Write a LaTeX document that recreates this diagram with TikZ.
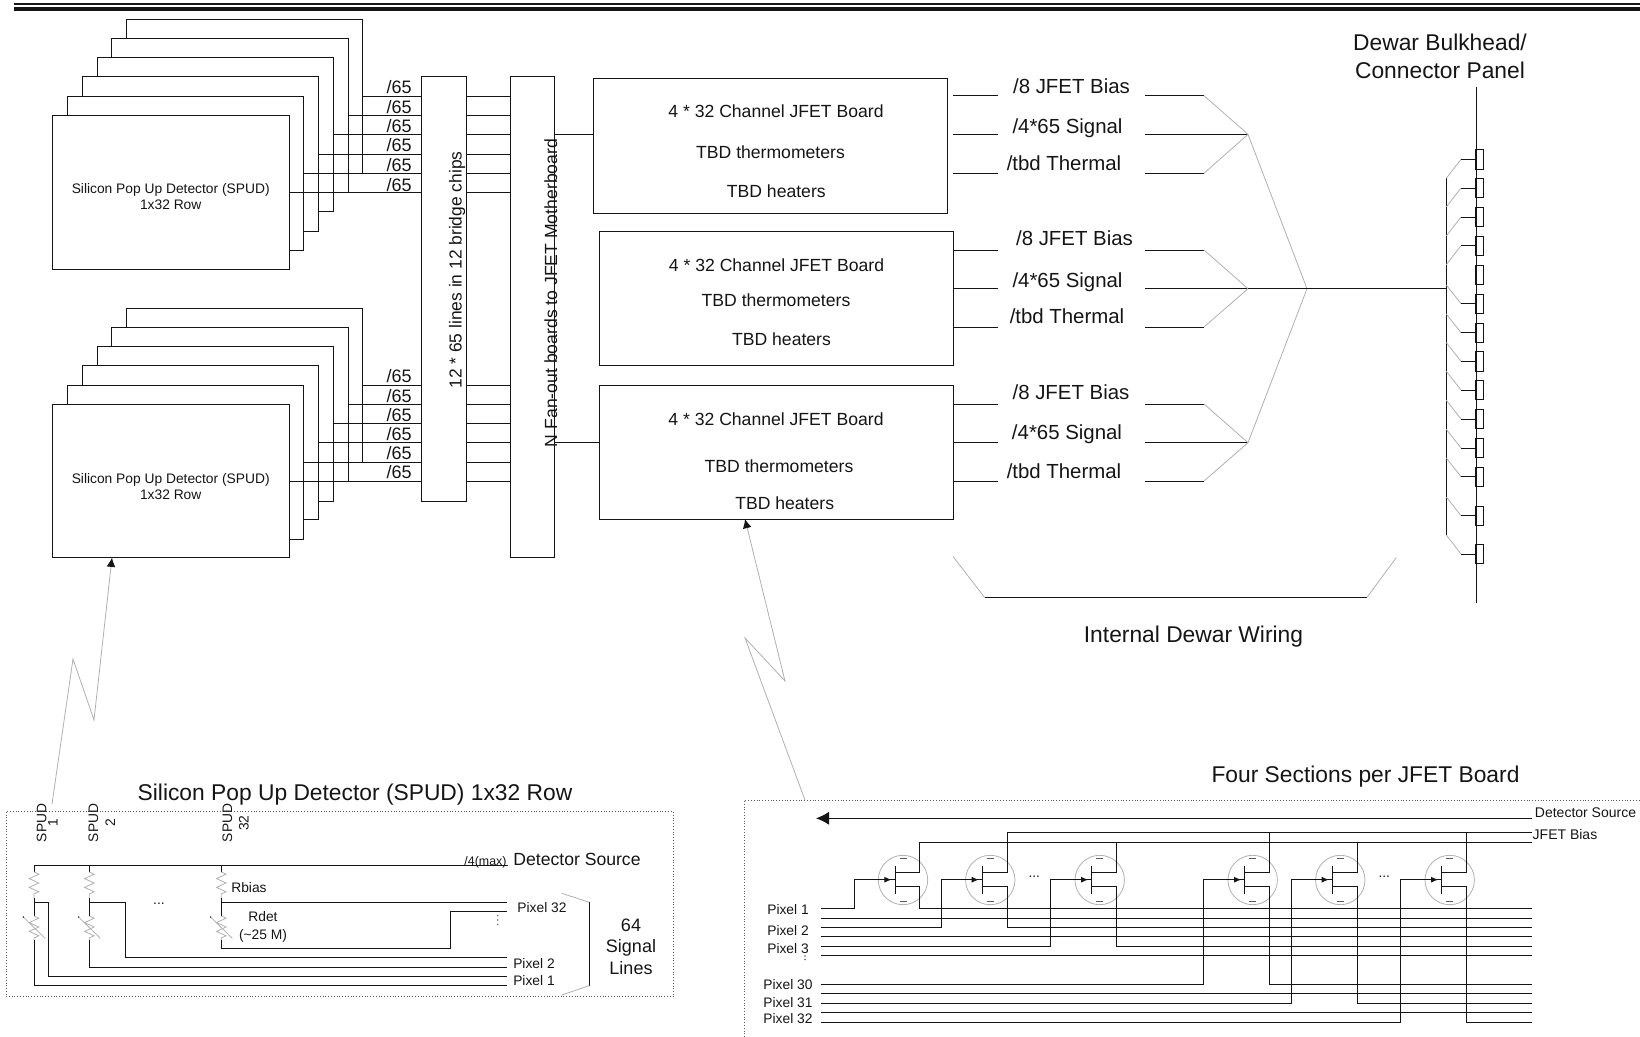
\documentclass[tikz,border=0pt]{standalone}
\usepackage{fontspec}
\setmainfont{Liberation Sans}
\usepackage{xcolor}
\usetikzlibrary{arrows.meta,decorations.pathmorphing}
\definecolor{ink}{HTML}{151515}
\definecolor{thingray}{HTML}{B0B0B0}
\newcommand{\fsz}[1]{\fontsize{#1}{#1}\selectfont}
\tikzset{
  stackbox/.style={draw=ink,fill=white,line width=0.45pt,inner sep=0pt,outer sep=0pt},
  pinbox/.style={draw=ink,line width=0.45pt,inner sep=0pt,outer sep=0pt,
                 minimum width=3.6pt,minimum height=9.7pt},
  wire/.style={draw=ink,line width=0.45pt},
  thinwire/.style={draw=thingray,line width=0.4pt},
  dotbox/.style={draw=ink!70,line width=0.4pt,densely dotted},
  txt/.style={inner sep=0pt,text=ink,text height=0.72em,text depth=0pt},
  tiny/.style={txt,font=\fsz{6.9}},
  labelsm/.style={txt,font=\fsz{9}},
  boardtxt/.style={txt,font=\fsz{8.8}},
  sigtxt/.style={txt,font=\fsz{10.2}},
  headtxt/.style={txt,font=\fsz{11.4}},
  jfetring/.style={circle,draw=thingray,line width=0.4pt,inner sep=0pt,minimum size=24.7pt},
  gatearr/.style={-{Latex[length=3.6pt,width=3pt]},draw=ink,line width=0.45pt},
  ziparr/.style={thinwire,-{Latex[ink,length=4.6pt,width=4.4pt]}},
  zag/.style={thinwire,decorate,decoration={zigzag,amplitude=2.4pt,segment length=4.4pt}}
}
\begin{document}
\begin{tikzpicture}[x=0.5pt,y=-0.5pt]
  \useasboundingbox (0,0) rectangle (1640,1037);

  % header rule
  \draw[ink,line width=0.8pt] (14,4.3) -- (1640,4.3);
  \draw[ink,line width=1.8pt] (14,9) -- (1640,9);

  % detector stacks, back box first
  \foreach \n/\xa/\ya/\xb/\yb in {
    a5/126.3/19.3/362.8/173.3, a4/111.7/38.3/348.3/192.3, a3/97.2/57.3/333/211.7,
    a2/82.3/76.7/318.4/231, a1/67.7/96/303.5/250.3, a0/52.4/115.7/289.7/269,
    b5/126.3/308.3/362.8/462, b4/111.7/327/348.3/481, b3/97.2/346.7/333/501,
    b2/82.3/365.7/318.4/519.7, b1/67.7/385/303.5/539.3, b0/52.4/404.3/289.7/557.7} {
    \node[stackbox,minimum width={(\xb-\xa)*0.5pt},minimum height={(\yb-\ya)*0.5pt}]
      (spud\n) at ({(\xa+\xb)/2},{(\ya+\yb)/2}) {};
  }
  \node[tiny] (spudnamea) at (170.7,186.3) {Silicon Pop Up Detector (SPUD)};
  \node[tiny] (spudrowa) at (170.7,202.3) {1x32 Row};
  \node[tiny] (spudnameb) at (170.7,476.3) {Silicon Pop Up Detector (SPUD)};
  \node[tiny] (spudrowb) at (170.7,492.3) {1x32 Row};

  % bridge chips and motherboard
  \node[stackbox,minimum width=22.2pt,minimum height=212.2pt] (bridge) at (443.9,288.8) {};
  \node[stackbox,minimum width=22.2pt,minimum height=240.5pt] (mother) at (532.3,317.2) {};
  \node[txt,font=\fsz{8.7},rotate=90] (bridgetxt) at (454.5,270) {12 * 65 lines in 12 bridge chips};
  \node[txt,font=\fsz{8.8},rotate=90] (mothertxt) at (550,293) {N Fan-out boards to JFET Motherboard};

  % /65 lines into the bridge, then on to the motherboard
  \foreach \n/\y/\t in {a5/96/86.5,a4/115.7/106.7,a3/134.3/125.7,a2/154/144.7,a1/173.3/164.7,a0/192.3/184,
                        b5/385/375.5,b4/404.3/395.5,b3/423.7/414.5,b2/442.7/433.5,b1/462/452.5,b0/481.3/471.5} {
    \draw[wire] (spud\n.east |- 0,\y) -- (bridge.west |- 0,\y);
    \draw[wire] (bridge.east |- 0,\y) -- (mother.west |- 0,\y);
    \node[labelsm,anchor=east] (lab\n) at (412,\t) {/65};
  }

  % JFET boards
  \node[stackbox,minimum width=177.2pt,minimum height=67.5pt] (boarda) at (770.5,145.8) {};
  \node[stackbox,minimum width=177pt,minimum height=67pt] (boardb) at (776,298) {};
  \node[stackbox,minimum width=177pt,minimum height=67pt] (boardc) at (776,452) {};
  \draw[wire] (mother.east |- 0,134.3) -- (boarda.west |- 0,134.3);
  \draw[wire] (mother.east |- 0,442.7) -- (boardc.west |- 0,442.7);
  \foreach \n/\t/\x/\y in {
    a1/4 * 32 Channel JFET Board/776/110, a2/TBD thermometers/770.5/151, a3/TBD heaters/776.3/190,
    b1/4 * 32 Channel JFET Board/776.5/264, b2/TBD thermometers/776/299.5, b3/TBD heaters/781.5/338,
    c1/4 * 32 Channel JFET Board/776/418, c2/TBD thermometers/779/465, c3/TBD heaters/784.7/502} {
    \node[boardtxt] (btxt\n) at (\x,\y) {\t};
  }

  % board output wiring
  \coordinate (fan) at (1307,288.7);
  \foreach \b/\ya/\yb/\yc in {1/95.7/134.3/173.3,2/250/288.7/327,3/404/442.7/481} {
    \coordinate (junc\b) at (1248,\yb);
    \draw[wire] (953,\ya) -- (997.7,\ya);
    \draw[wire] (953,\yb) -- (997.7,\yb);
    \draw[wire] (953,\yc) -- (997.7,\yc);
    \draw[wire] (1145,\ya) -- (1204,\ya);
    \draw[wire] (1145,\yc) -- (1204,\yc);
    \draw[wire] (1145,\yb) -- (junc\b);
    \draw[thinwire] (1204,\ya) -- (junc\b);
    \draw[thinwire] (1204,\yc) -- (junc\b);
  }
  \draw[thinwire] (junc1) -- (fan);
  \draw[thinwire] (junc3) -- (fan);
  \draw[wire] (junc2) -- (fan);
  \foreach \n/\t/\x/\y in {
    a1/8 JFET Bias/1071.5/86, a2/4*65 Signal/1067.5/126, a3/tbd Thermal/1064/163,
    b1/8 JFET Bias/1074.5/238, b2/4*65 Signal/1067.5/280, b3/tbd Thermal/1067/316.7,
    c1/8 JFET Bias/1071/392, c2/4*65 Signal/1067/432, c3/tbd Thermal/1064/471} {
    \node[sigtxt] (sig\n) at (\x,\y) {/\t};
  }

  % connector panel
  \node[headtxt] (dewara) at (1440,43) {Dewar Bulkhead/};
  \node[headtxt] (dewarb) at (1440,71) {Connector Panel};
  \coordinate (paneltop) at (1476.7,87);
  \coordinate (panelend) at (1476.7,602.7);
  \draw[ink,line width=0.6pt] (paneltop) -- (panelend);
  \coordinate (busa) at (1446.3,178.3);
  \coordinate (busb) at (1446.3,535);
  \draw[wire] (busa) -- (busb);
  \draw[wire] (fan) -- (busa |- fan);
  \node[pinbox] (pin5) at (1479.4,274.7) {};
  \foreach \i/\y/\o in {1/159.3/19,2/188/19,3/217/19,4/245.7/19,
                        6/303.7/-18.7,7/332.7/-18.7,8/361.3/-18.7,9/390/-18.7,10/419/-18.7,
                        11/448/-18.7,12/476.7/-18.7,13/515.7/-18.7,14/554/-19} {
    \node[pinbox] (pin\i) at (1479.4,\y) {};
    \draw[thinwire] (1446.3,{\y+\o}) -- (1461,\y);
    \draw[wire] (1461,\y) -- (pin\i.west);
  }

  % internal wiring bracket
  \draw[thinwire] (953,556.5) -- (984.5,597.3);
  \draw[wire] (984.5,597.3) -- (1367,597.3);
  \draw[thinwire] (1367,597.3) -- (1396.4,557.5);
  \node[txt,font=\fsz{11.4}] (wiring) at (1193.5,635) {Internal Dewar Wiring};

  % zoom-in pointers
  \coordinate (zipa) at (52,804);
  \coordinate (zipb) at (805,800);
  \draw[ziparr] (zipa) -- (73,659) -- (94,720) -- (spudb0.south -| 112,0);
  \draw[ziparr] (zipb) -- (745,638) -- (785,681) -- (boardc.south -| 745,0);

  % lower left: SPUD row
  \node[headtxt] (rowtitle) at (355,793) {Silicon Pop Up Detector (SPUD) 1x32 Row};
  \draw[dotbox] (6.3,811.7) rectangle (673.3,996.7);
  \foreach \n/\x/\t/\xt in {1/39.2/1/50.5,2/91/2/108,3/225/32/241.5} {
    \node[tiny,rotate=90] (spudv\n) at (\x,823) {SPUD};
    \node[tiny,rotate=90] (spudn\n) at (\xt,823) {\t};
  }
  \coordinate (srcend) at (508,865);
  \draw[wire] (34,865) -- (srcend);
  \foreach \x in {34,89.3,221.3} {
    \draw[wire] (\x,865) -- (\x,872);
    \draw[zag] (\x,872) -- (\x,898);
    \draw[wire] (\x,898) -- (\x,916);
    \draw[zag] (\x,916) -- (\x,940);
    \draw[thinwire] ({\x-10.7},917) -- ({\x+11},938.3);
    \fill[ink] ({\x-10.7},917) circle (0.4pt);
  }
  \draw[wire] (34,940) -- (34,985.7) -- (506.7,985.7);
  \draw[wire] (34,902.3) -- (48.3,902.3) -- (48.3,976) -- (506.7,976);
  \draw[wire] (89.3,940) -- (89.3,967) -- (506.7,967);
  \draw[wire] (89.3,902.3) -- (125.7,902.3) -- (125.7,957.3) -- (506.7,957.3);
  \draw[wire] (221.3,940) -- (221.3,948.3) -- (450.3,948.3) -- (450.3,911.3) -- (506.7,911.3);
  \draw[wire] (221.3,902.3) -- (506.7,902.3);
  \node[txt,font=\fsz{6.2}] (srcmax) at (485.5,858) {/4(max)};
  \node[txt,font=\fsz{8.8}] (srcname) at (577,858) {Detector Source};
  \node[tiny] (rbias) at (249,885) {Rbias};
  \node[tiny] (rdet) at (263,914) {Rdet};
  \node[tiny] (rdetval) at (263,932) {(\textasciitilde25 M)};
  \node[tiny] (dotsrow) at (159,897) {...};
  \node[tiny] (pixa) at (542,905.3) {Pixel 32};
  \node[tiny] (pixb) at (534,961) {Pixel 2};
  \node[tiny] (pixc) at (534,978.3) {Pixel 1};
  \foreach \y in {915.5,920,924.5} {
    \fill[ink!60] (497.7,\y) circle (0.4pt);
  }
  \draw[thinwire] (561.7,893.3) -- (589.3,902.3);
  \draw[wire] (589.3,902.3) -- (589.3,985.7);
  \draw[thinwire] (589.3,985.7) -- (561.7,995);
  \node[labelsm] (sigcount) at (631,924.7) {64};
  \node[labelsm] (signame) at (631,945.3) {Signal};
  \node[labelsm] (siglines) at (631,967) {Lines};

  % lower right: JFET sections
  \node[headtxt] (fourtitle) at (1365.5,775) {Four Sections per JFET Board};
  \draw[dotbox] (744.3,1037) -- (744.3,800) -- (1640,800);
  \coordinate (srcright) at (1531.7,818.3);
  \coordinate (srcleft) at (816,818.3);
  \draw[ink,line width=0.45pt,-{Latex[length=6.5pt,width=6.5pt]}] (srcright) -- (srcleft);
  \draw[wire] (1531.7,832.7) -- (1006.7,832.7);
  \draw[wire] (1531.7,842) -- (919.7,842);
  \node[txt,font=\fsz{7}] (srctxt) at (1585.5,810.3) {Detector Source};
  \node[txt,font=\fsz{7}] (biastxt) at (1565,832.7) {JFET Bias};
  % lines that no section interrupts
  \foreach \y in {918.3,936.7,955.3,993,1012.3} {
    \draw[wire] (820.7,\y) -- (1531.7,\y);
  }
  \foreach \i/\cx/\py/\by in {1/903/908/842,2/990.3/927.3/832.7,3/1099.7/946.3/842,
                              4/1252.7/984/832.7,5/1340.3/1003.3/842,6/1449.7/1022.3/832.7} {
    \node[jfetring] (jfet\i) at (\cx,880) {};
    \draw[ink!70,line width=0.4pt] ({\cx-3.5},858.7) -- ({\cx+3.5},858.7);
    \draw[ink!70,line width=0.4pt] ({\cx-3.5},901) -- ({\cx+3.5},901);
    \draw[wire] ({\cx-8},866) -- ({\cx-8},894);
    % gate side
    \draw[wire] (820.7,\py) -- ({\cx-49},\py) -- ({\cx-49},879.7) -- ({\cx-8},879.7);
    \draw[gatearr] ({\cx-20},879.7) -- ({\cx-11.5},879.7);
    % drain and source
    \draw[wire] ({\cx-8},872.7) -- ({\cx+16.7},872.7) -- ({\cx+16.7},\by);
    \draw[wire] ({\cx-8},886.7) -- ({\cx+16.7},886.7) -- ({\cx+16.7},\py) -- (1531.7,\py);
  }
  \node[tiny] (dotsa) at (1034.3,870) {...};
  \node[tiny] (dotsb) at (1384.3,870) {...};
  \foreach \n/\t/\y in {a/Pixel 1/907.3,b/Pixel 2/928.7,c/Pixel 3/946.3,
                        d/Pixel 30/982.7,e/Pixel 31/1000.3,f/Pixel 32/1016.3} {
    \node[tiny] (pixlab\n) at (788,\y) {\t};
  }
  \fill[ink!70] (805,956) circle (0.4pt) (805,959.5) circle (0.4pt);
\end{tikzpicture}
\end{document}
